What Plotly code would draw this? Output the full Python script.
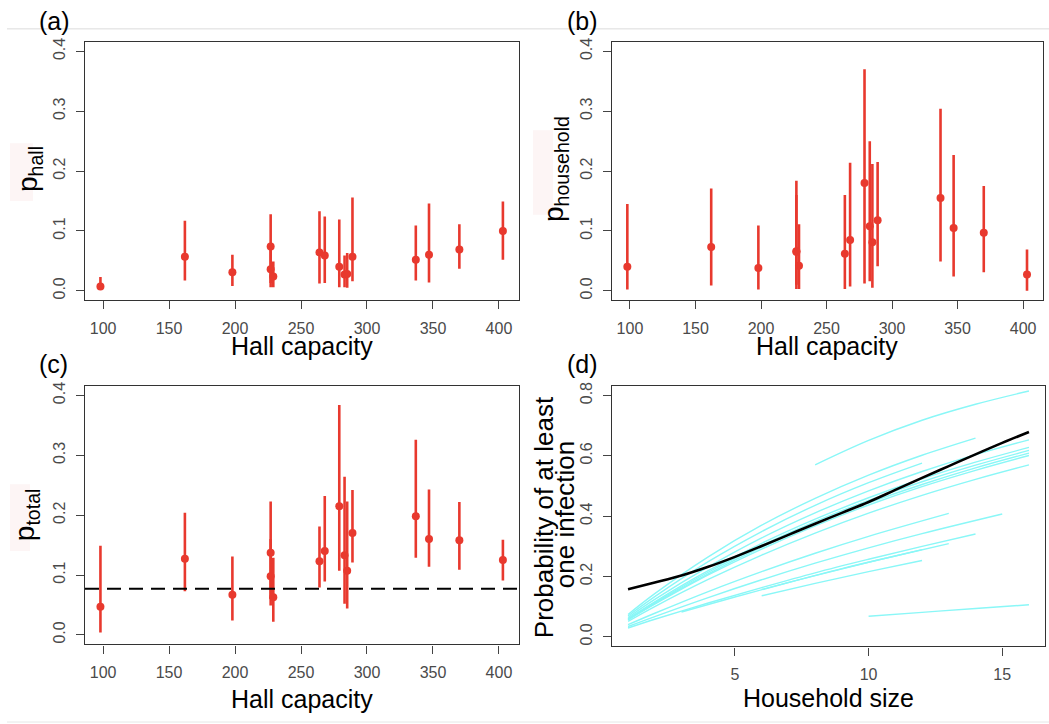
import plotly.graph_objects as go

W, H = 1049, 724

# ---------------- data ----------------
capacity = [98, 162, 198, 227, 227, 229, 264, 268, 279, 283, 285, 289, 337, 347, 370, 403]

p_hall = [0.007, 0.057, 0.031, 0.074, 0.036, 0.024, 0.064, 0.059, 0.040, 0.027, 0.028, 0.057, 0.052, 0.060, 0.069, 0.100]
p_hall_lo = [0.002, 0.017, 0.008, 0.006, 0.013, 0.006, 0.012, 0.013, 0.006, 0.006, 0.005, 0.016, 0.017, 0.014, 0.037, 0.052]
p_hall_hi = [0.023, 0.117, 0.060, 0.128, 0.080, 0.049, 0.133, 0.124, 0.119, 0.059, 0.063, 0.156, 0.109, 0.146, 0.111, 0.149]

p_household = [0.040, 0.073, 0.038, 0.066, 0.065, 0.042, 0.062, 0.085, 0.180, 0.108, 0.081, 0.118, 0.155, 0.105, 0.097, 0.027]
p_household_lo = [0.002, 0.009, 0.002, 0.003, 0.010, 0.003, 0.003, 0.007, 0.012, 0.016, 0.005, 0.041, 0.049, 0.024, 0.031, 0.000]
p_household_hi = [0.145, 0.171, 0.109, 0.184, 0.160, 0.111, 0.160, 0.214, 0.370, 0.250, 0.212, 0.215, 0.304, 0.227, 0.175, 0.069]

p_total = [0.047, 0.127, 0.067, 0.137, 0.098, 0.063, 0.123, 0.140, 0.215, 0.133, 0.107, 0.170, 0.198, 0.160, 0.158, 0.125]
p_total_lo = [0.004, 0.073, 0.024, 0.049, 0.060, 0.022, 0.079, 0.089, 0.107, 0.052, 0.044, 0.121, 0.129, 0.114, 0.109, 0.091]
p_total_hi = [0.149, 0.204, 0.131, 0.223, 0.160, 0.129, 0.181, 0.232, 0.384, 0.264, 0.223, 0.242, 0.326, 0.243, 0.222, 0.159]

p_total_overall = 0.077

# panel (d): probability of at least one infection vs household size
overall_size = [1, 2, 3, 4, 5, 6, 7, 8, 9, 10, 11, 12, 13, 14, 15, 16]
overall_prob = [0.158, 0.180, 0.203, 0.232, 0.265, 0.301, 0.338, 0.375, 0.411, 0.447,
                0.487, 0.527, 0.566, 0.605, 0.643, 0.679]

hall_sizes = [
    [10, 12, 14, 16],
    [1, 2, 4, 6, 8, 10, 12, 14, 16],
    [1, 2, 4, 6, 8, 10, 12, 14],
    [1, 2, 4, 6, 8, 10, 12, 14],
    [1, 2, 4, 6, 8, 10, 12, 15],
    [6, 8, 10, 12],
    [1, 2, 4, 6, 8, 10, 12, 14, 16],
    [1, 2, 4, 6, 8, 10, 12, 14, 16],
    [1, 2, 4, 6, 8, 10, 13],
    [3, 5, 7, 9, 11, 13],
    [6, 8, 10, 12],
    [1, 2, 4, 6, 8, 10, 12, 14, 16],
    [1, 2, 4, 6, 8, 10, 12, 14, 16],
    [1, 2, 4, 6, 8, 10, 12, 14, 16],
    [1, 2, 4, 6, 8, 10, 12],
    [8, 10, 12, 14, 16],
]
hall_probs = [
    [0.068, 0.081, 0.094, 0.106],
    [0.057, 0.111, 0.209, 0.297, 0.375, 0.444, 0.505, 0.560, 0.609],
    [0.029, 0.058, 0.112, 0.163, 0.212, 0.257, 0.300, 0.341],
    [0.074, 0.143, 0.265, 0.370, 0.459, 0.536, 0.602, 0.659],
    [0.034, 0.067, 0.130, 0.189, 0.244, 0.295, 0.342, 0.407],
    [0.136, 0.177, 0.216, 0.253],
    [0.064, 0.124, 0.232, 0.328, 0.411, 0.484, 0.548, 0.604, 0.653],
    [0.058, 0.113, 0.214, 0.303, 0.382, 0.452, 0.514, 0.569, 0.618],
    [0.040, 0.078, 0.150, 0.216, 0.277, 0.333, 0.409],
    [0.082, 0.132, 0.180, 0.226, 0.268, 0.309],
    [0.157, 0.203, 0.247, 0.289],
    [0.056, 0.108, 0.205, 0.291, 0.368, 0.437, 0.498, 0.552, 0.601],
    [0.051, 0.100, 0.190, 0.271, 0.344, 0.410, 0.469, 0.522, 0.570],
    [0.060, 0.116, 0.219, 0.310, 0.390, 0.461, 0.524, 0.579, 0.628],
    [0.069, 0.133, 0.249, 0.349, 0.436, 0.511, 0.576],
    [0.570, 0.651, 0.718, 0.771, 0.815],
]

cap_ticks = [100, 150, 200, 250, 300, 350, 400]
p_ticks = [0.0, 0.1, 0.2, 0.3, 0.4]
size_ticks = [5, 10, 15]
prob_ticks = [0.0, 0.2, 0.4, 0.6, 0.8]

# ---------------- style ----------------
RED = "#e8392e"
CYAN = "#8af7f7"
FONT = "Liberation Sans, Arial, sans-serif"
TICKC = "#4a4a4a"


def px_x(x):
    return x / W


def px_y(y):
    return 1 - y / H


fig = go.Figure()


def add_panel(xa, ya, y, lo, hi):
    fig.add_trace(go.Scatter(
        x=capacity, y=y, mode="markers", xaxis=xa, yaxis=ya,
        marker=dict(color=RED, size=8, line=dict(width=0)),
        error_y=dict(type="data", symmetric=False,
                     array=[h - v for h, v in zip(hi, y)],
                     arrayminus=[v - l for v, l in zip(y, lo)],
                     color=RED, thickness=2.6, width=0),
        showlegend=False, hoverinfo="skip"))


add_panel("x", "y", p_hall, p_hall_lo, p_hall_hi)
add_panel("x2", "y2", p_household, p_household_lo, p_household_hi)
add_panel("x3", "y3", p_total, p_total_lo, p_total_hi)

# dashed overall line in (c)
fig.add_trace(go.Scatter(x=[86.3, 415.2], y=[p_total_overall, p_total_overall], mode="lines",
                         xaxis="x3", yaxis="y3", line=dict(color="black", width=2, dash="14px,8px"),
                         showlegend=False, hoverinfo="skip"))

# panel (d)
for n, p in zip(hall_sizes, hall_probs):
    fig.add_trace(go.Scatter(x=n, y=p, mode="lines", xaxis="x4", yaxis="y4",
                             line=dict(color=CYAN, width=1.4, shape="spline"),
                             showlegend=False, hoverinfo="skip"))
fig.add_trace(go.Scatter(x=overall_size, y=overall_prob, mode="lines", xaxis="x4", yaxis="y4",
                         line=dict(color="black", width=2.6, shape="spline"),
                         showlegend=False, hoverinfo="skip"))

# ---------------- axes ----------------
boxes = {
    1: (85, 519, 38, 298),
    2: (612, 1043, 38, 298),
    3: (85, 519, 384, 644),
    4: (612, 1045, 384, 646),
}


def axis_common():
    return dict(showline=True, mirror=True, linecolor="#333", linewidth=1.2,
                ticks="outside", ticklen=8, tickwidth=1.2, tickcolor="#444",
                showgrid=False, zeroline=False,
                tickfont=dict(family=FONT, size=16, color=TICKC),
                ticklabelstandoff=5)


layout = dict(width=W, height=H, margin=dict(l=0, r=0, t=0, b=0),
              paper_bgcolor="white", plot_bgcolor="white", showlegend=False)

for i, (x0, x1, y0, y1) in boxes.items():
    sx = "" if i == 1 else str(i)
    xa = axis_common()
    ya = axis_common()
    xa.update(domain=[px_x(x0), px_x(x1)], anchor="y" + sx)
    ya.update(domain=[px_y(y1), px_y(y0)], anchor="x" + sx, tickangle=-90)
    if i < 4:
        xa.update(range=[86.3, 415.2], tickvals=cap_ticks)
        ya.update(range=[-0.016, 0.416], tickvals=p_ticks, tickformat=".1f")
    else:
        xa.update(range=[0.4, 16.6], tickvals=size_ticks)
        ya.update(range=[-0.032, 0.832], tickvals=prob_ticks, tickformat=".1f")
    layout["xaxis" + sx] = xa
    layout["yaxis" + sx] = ya

fig.update_layout(**layout)

# ---------------- decorations ----------------
shapes = [
    dict(type="line", xref="paper", yref="paper", x0=px_x(7), x1=1, y0=px_y(25), y1=px_y(25),
         line=dict(color="#dcdcdc", width=1), layer="below"),
    dict(type="line", xref="paper", yref="paper", x0=px_x(7), x1=1, y0=px_y(722), y1=px_y(722),
         line=dict(color="#e6e6e6", width=1), layer="below"),
]
for (x0, x1, y0, y1) in [(10, 33, 140, 198), (533, 553, 127, 212), (10, 30, 483, 550)]:
    shapes.append(dict(type="rect", xref="paper", yref="paper",
                       x0=px_x(x0), x1=px_x(x1), y0=px_y(y1), y1=px_y(y0),
                       fillcolor="#fdf5f5", line=dict(width=0), layer="below"))
fig.update_layout(shapes=shapes)


def ann(text, x, y, size, angle=0):
    fig.add_annotation(text=text, x=px_x(x), y=px_y(y), xref="paper", yref="paper",
                       showarrow=False, textangle=angle, xanchor="center", yanchor="middle",
                       font=dict(family=FONT, size=size, color="black"))


ann("(a)", 54, 17, 25)
ann("(b)", 582, 17, 25)
ann("(c)", 53, 362, 25)
ann("(d)", 582, 362, 25)

ann("Hall capacity", 302, 344, 25)
ann("Hall capacity", 827, 344, 25)
ann("Hall capacity", 302, 699, 25)
ann("Household size", 828, 698, 25)

ann("p<sub>hall</sub>", 29, 166, 28, -90)
ann("p<sub>household</sub>", 555, 166, 28, -90)
ann("p<sub>total</sub>", 26, 514, 28, -90)
ann("Probability of at least", 544, 516, 26, -90)
ann("one infection", 565, 514, 26, -90)

fig.write_html("out.html")
